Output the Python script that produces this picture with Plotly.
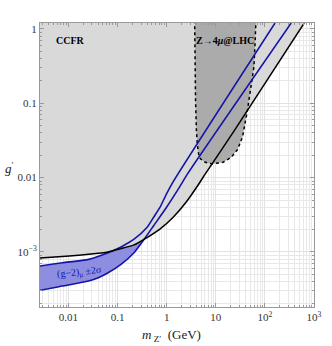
import plotly.graph_objects as go

# ---- data ----
# CCFR bound (black line), region above is excluded
ccfr_m = [0.002, 0.00263, 0.01033, 0.0257, 0.064, 0.1175, 0.2163, 0.396, 0.728, 1.34, 2.455, 4.51, 6.11, 24.0, 631.0]
ccfr_g = [8.13e-4, 8.30e-4, 8.83e-4, 9.31e-4, 1.0e-3, 1.109e-3, 1.245e-3, 1.56e-3, 2.03e-3, 2.91e-3, 4.63e-3, 8.22e-3, 0.01122, 0.0432, 1.2]

# (g-2)_mu +/- 2 sigma band
g2_up_m = [0.002, 0.00263, 0.0075, 0.0257, 0.064, 0.1175, 0.2163, 0.396, 0.538, 0.728, 0.986, 1.34, 160.7]
g2_up_g = [6.31e-4, 6.47e-4, 7.16e-4, 7.96e-4, 9.79e-4, 1.169e-3, 1.486e-3, 2.13e-3, 2.91e-3, 3.97e-3, 6.0e-3, 8.7e-3, 1.2]
g2_lo_m = [0.002, 0.00263, 0.0075, 0.0257, 0.0406, 0.064, 0.1175, 0.2163, 0.3664, 0.538, 0.986, 1.81, 2.655, 342.8]
g2_lo_g = [2.99e-4, 3.06e-4, 3.48e-4, 4.06e-4, 4.5e-4, 5.25e-4, 6.82e-4, 9.79e-4, 1.56e-3, 2.24e-3, 3.97e-3, 7.4e-3, 0.01122, 1.2]

# Z -> 4mu @ LHC excluded region (closed contour)
lhc_m = [3.70, 3.76, 3.87, 4.03, 4.19, 4.51, 4.86, 6.11, 8.51, 14.1, 20.7, 27.9, 35.1, 44.1, 59.8, 63.1, 66.4]
lhc_g = [1.58, 0.316, 0.11, 0.0432, 0.0288, 0.020, 0.0179, 0.0161, 0.0153, 0.0161, 0.0188, 0.024, 0.0355, 0.0804, 0.31, 0.647, 1.58]

G_TOP = 10.0  # closes the CCFR region above the plotted range

x_ticks = [0.01, 0.1, 1, 10, 100, 1000]
x_ticktext = ["0.01", "0.1", "1", "10", "10<sup>2</sup>", "10<sup>3</sup>"]
y_ticks = [0.001, 0.01, 0.1, 1]
y_ticktext = ["10<sup>\u22123</sup>", "0.01", "0.1", "1"]

x_minor = [k * 10 ** d for d in range(-3, 4) for k in range(2, 10)]
y_minor = [k * 10 ** d for d in range(-4, 1) for k in range(2, 10)]

SERIF = "Liberation Serif, Times New Roman, serif"
BLUE = "#1414a6"

fig = go.Figure()

# blue band fill
fig.add_trace(go.Scatter(
    x=g2_up_m + g2_lo_m[::-1], y=g2_up_g + g2_lo_g[::-1],
    fill="toself", fillcolor="#8e8ee0", line=dict(width=0),
    mode="lines", hoverinfo="skip", showlegend=False))

# CCFR excluded region
fig.add_trace(go.Scatter(
    x=ccfr_m + [ccfr_m[-1], ccfr_m[0]], y=ccfr_g + [G_TOP, G_TOP],
    fill="toself", fillcolor="#d9d9d9", line=dict(width=0),
    mode="lines", hoverinfo="skip", showlegend=False))

# LHC region
fig.add_trace(go.Scatter(
    x=lhc_m, y=lhc_g, fill="toself", fillcolor="#ababab",
    line=dict(color="black", width=1.5, dash="dot"),
    mode="lines", hoverinfo="skip", showlegend=False))

# blue lines
fig.add_trace(go.Scatter(x=g2_up_m, y=g2_up_g, mode="lines", line_shape="spline",
                         line=dict(color=BLUE, width=1.6, smoothing=0.6), showlegend=False))
fig.add_trace(go.Scatter(x=g2_lo_m, y=g2_lo_g, mode="lines", line_shape="spline",
                         line=dict(color=BLUE, width=1.6, smoothing=0.6), showlegend=False))
# CCFR line
fig.add_trace(go.Scatter(x=ccfr_m, y=ccfr_g, mode="lines", line_shape="spline",
                         line=dict(color="black", width=1.5, smoothing=0.6), showlegend=False))

axis_common = dict(
    type="log", showline=True, linecolor="#999999", linewidth=1, mirror="allticks",
    ticks="inside", ticklen=4, tickcolor="#999999", tickwidth=1,
    showgrid=True, gridcolor="#e2e2e2", gridwidth=1, zeroline=False,
    tickfont=dict(family=SERIF, size=11, color="#333333"),
)

fig.update_xaxes(**axis_common, range=[-2.58, 3.0],
                 tickmode="array", tickvals=x_ticks, ticktext=x_ticktext,
                 minor=dict(tickvals=x_minor, ticks="inside", ticklen=2,
                            tickcolor="#999999", showgrid=True, gridcolor="#e8e8e8"))
fig.update_yaxes(**axis_common, range=[-3.74, 0.08],
                 tickmode="array", tickvals=y_ticks, ticktext=y_ticktext,
                 minor=dict(tickvals=y_minor, ticks="inside", ticklen=2,
                            tickcolor="#999999", showgrid=True, gridcolor="#e8e8e8"))

annotations = [
    dict(text="<b>CCFR</b>", x=0.05, y=0.94, xref="paper", yref="paper",
         xanchor="left", yanchor="middle", showarrow=False,
         font=dict(family=SERIF, size=10, color="black")),
    dict(text="<b>Z\u21924<i>\u03bc</i>@LHC</b>", x=0.675, y=0.94, xref="paper", yref="paper",
         xanchor="center", yanchor="middle", showarrow=False,
         font=dict(family=SERIF, size=10, color="black")),
    dict(text="(g\u22122)<sub>\u03bc</sub> \u00b12\u03c3", x=0.145, y=0.12, xref="paper", yref="paper",
         xanchor="center", yanchor="middle", showarrow=False, textangle=-6,
         font=dict(family=SERIF, size=10, color=BLUE)),
    dict(text="<i>g</i><sup>\u2032</sup>", x=-0.11, y=0.49, xref="paper", yref="paper",
         xanchor="center", yanchor="middle", showarrow=False,
         font=dict(family=SERIF, size=13, color="#222222")),
    dict(text="<i>m</i><sub> Z\u2032</sub>  (GeV)", x=0.48, y=-0.1, xref="paper", yref="paper",
         xanchor="center", yanchor="middle", showarrow=False,
         font=dict(family=SERIF, size=13, color="#222222")),
]

fig.update_layout(
    width=332, height=346,
    margin=dict(l=40, r=10, t=23, b=39),
    paper_bgcolor="white", plot_bgcolor="white",
    annotations=annotations, showlegend=False,
)

fig.write_html("out.html", config={"displayModeBar": False},
               post_script="document.body.style.margin='0';")
